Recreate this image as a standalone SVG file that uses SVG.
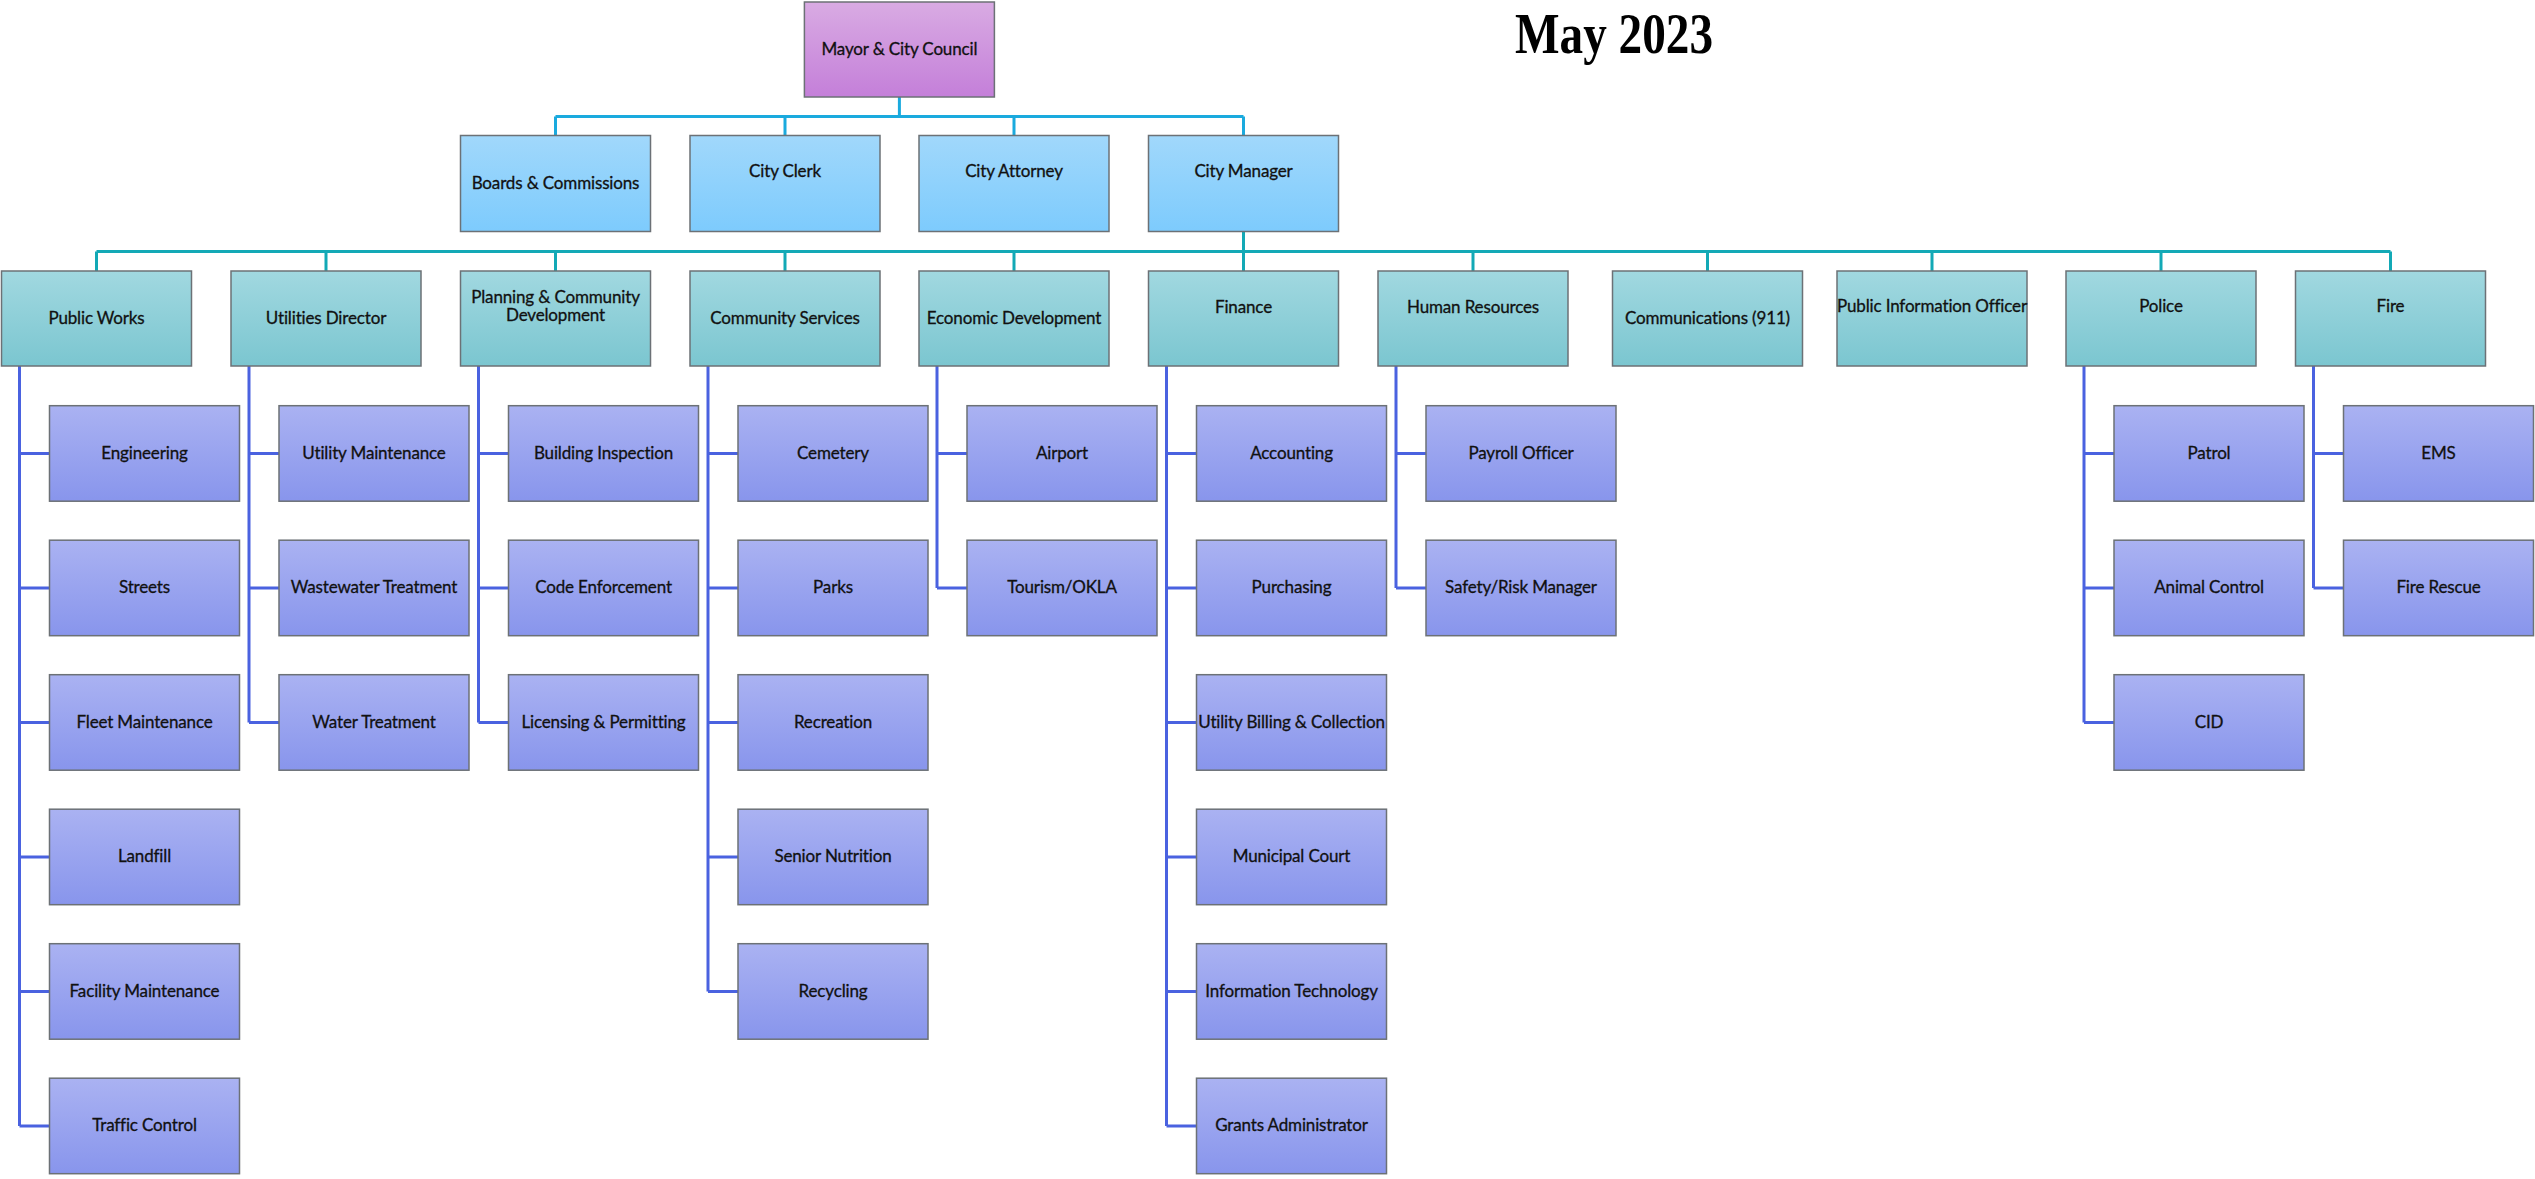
<svg xmlns="http://www.w3.org/2000/svg" width="2535" height="1179" viewBox="0 0 2535 1179">
<defs>
<linearGradient id="gMayor" x1="0" y1="0" x2="0" y2="1"><stop offset="0" stop-color="#d9abe3"/><stop offset="1" stop-color="#c47fd9"/></linearGradient>
<linearGradient id="gTop" x1="0" y1="0" x2="0" y2="1"><stop offset="0" stop-color="#a1d8fb"/><stop offset="1" stop-color="#7dcbfd"/></linearGradient>
<linearGradient id="gDept" x1="0" y1="0" x2="0" y2="1"><stop offset="0" stop-color="#a1d8e0"/><stop offset="1" stop-color="#7bc6d0"/></linearGradient>
<linearGradient id="gSub" x1="0" y1="0" x2="0" y2="1"><stop offset="0" stop-color="#aab2f2"/><stop offset="1" stop-color="#8895ec"/></linearGradient>
</defs>
<style>
rect.b{stroke:#6c7176;stroke-width:1.5}
.mayor{fill:url(#gMayor)}
.top{fill:url(#gTop)}
.dept{fill:url(#gDept)}
.sub{fill:url(#gSub)}
text{font-family:Lato,"Open Sans","Liberation Sans",sans-serif;font-size:17px;fill:#111;stroke:#111;stroke-width:0.3;letter-spacing:-0.15px;text-anchor:middle}
text.title{font-family:"Liberation Serif","Times New Roman",serif;font-weight:bold;font-size:56px;fill:#000;stroke:none;letter-spacing:0;text-anchor:start}
.c1{stroke:#1aaade;stroke-width:3;fill:none}
.c2{stroke:#13a9b6;stroke-width:3;fill:none}
.c3{stroke:#4a62e0;stroke-width:3;fill:none}
</style>
<rect width="2535" height="1179" fill="#fff"/>
<text class="title" x="1515" y="53" textLength="198" lengthAdjust="spacingAndGlyphs">May 2023</text>

<g id="connectors">
<path class="c1" d="M899.4 97V116.5M555.5 116.5H1243.5M555.5 116.5V135.5M785 116.5V135.5M1014 116.5V135.5M1243.5 116.5V135.5"/>
<path class="c2" d="M1243.5 231.5V251.5M96.5 251.5H2390.5M96.5 251.5V271M326 251.5V271M555.5 251.5V271M785 251.5V271M1014 251.5V271M1243.5 251.5V271M1473 251.5V271M1707.5 251.5V271M1932 251.5V271M2161 251.5V271M2390.5 251.5V271"/>
<path class="c3" d="M19.5 366V1126M19.5 453.5H49.5M19.5 588H49.5M19.5 722.5H49.5M19.5 857H49.5M19.5 991.5H49.5M19.5 1126H49.5"/>
<path class="c3" d="M249 366V722.5M249 453.5H279M249 588H279M249 722.5H279"/>
<path class="c3" d="M478.5 366V722.5M478.5 453.5H508.5M478.5 588H508.5M478.5 722.5H508.5"/>
<path class="c3" d="M708 366V991.5M708 453.5H738M708 588H738M708 722.5H738M708 857H738M708 991.5H738"/>
<path class="c3" d="M937 366V588M937 453.5H967M937 588H967"/>
<path class="c3" d="M1166.5 366V1126M1166.5 453.5H1196.5M1166.5 588H1196.5M1166.5 722.5H1196.5M1166.5 857H1196.5M1166.5 991.5H1196.5M1166.5 1126H1196.5"/>
<path class="c3" d="M1396 366V588M1396 453.5H1426M1396 588H1426"/>
<path class="c3" d="M2084 366V722.5M2084 453.5H2114M2084 588H2114M2084 722.5H2114"/>
<path class="c3" d="M2313.5 366V588M2313.5 453.5H2343.5M2313.5 588H2343.5"/>
</g>

<g id="n-mayor"><rect class="b mayor" x="804.4" y="2" width="190" height="95"/><text x="899.4" y="55">Mayor &amp; City Council</text></g>

<g id="n-boards"><rect class="b top" x="460.5" y="135.5" width="190" height="96"/><text x="555.5" y="189">Boards &amp; Commissions</text></g>
<g id="n-clerk"><rect class="b top" x="690" y="135.5" width="190" height="96"/><text x="785" y="177">City Clerk</text></g>
<g id="n-attorney"><rect class="b top" x="919" y="135.5" width="190" height="96"/><text x="1014" y="177">City Attorney</text></g>
<g id="n-manager"><rect class="b top" x="1148.5" y="135.5" width="190" height="96"/><text x="1243.5" y="177">City Manager</text></g>

<g id="n-publicworks"><rect class="b dept" x="1.5" y="271" width="190" height="95"/><text x="96.5" y="324">Public Works</text></g>
<g id="n-utilities"><rect class="b dept" x="231" y="271" width="190" height="95"/><text x="326" y="324">Utilities Director</text></g>
<g id="n-planning"><rect class="b dept" x="460.5" y="271" width="190" height="95"/><text x="555.5" y="303">Planning &amp; Community</text><text x="555.5" y="320.5">Development</text></g>
<g id="n-community"><rect class="b dept" x="690" y="271" width="190" height="95"/><text x="785" y="324">Community Services</text></g>
<g id="n-economic"><rect class="b dept" x="919" y="271" width="190" height="95"/><text x="1014" y="324">Economic Development</text></g>
<g id="n-finance"><rect class="b dept" x="1148.5" y="271" width="190" height="95"/><text x="1243.5" y="312.5">Finance</text></g>
<g id="n-hr"><rect class="b dept" x="1378" y="271" width="190" height="95"/><text x="1473" y="312.5">Human Resources</text></g>
<g id="n-comm"><rect class="b dept" x="1612.5" y="271" width="190" height="95"/><text x="1707.5" y="324">Communications (911)</text></g>
<g id="n-pio"><rect class="b dept" x="1837" y="271" width="190" height="95"/><text x="1932" y="312">Public Information Officer</text></g>
<g id="n-police"><rect class="b dept" x="2066" y="271" width="190" height="95"/><text x="2161" y="312">Police</text></g>
<g id="n-fire"><rect class="b dept" x="2295.5" y="271" width="190" height="95"/><text x="2390.5" y="312">Fire</text></g>

<g id="n-engineering"><rect class="b sub" x="49.5" y="405.7" width="190" height="95.5"/><text x="144.5" y="458.7">Engineering</text></g>
<g id="n-streets"><rect class="b sub" x="49.5" y="540.2" width="190" height="95.5"/><text x="144.5" y="593.2">Streets</text></g>
<g id="n-fleet"><rect class="b sub" x="49.5" y="674.7" width="190" height="95.5"/><text x="144.5" y="727.7">Fleet Maintenance</text></g>
<g id="n-landfill"><rect class="b sub" x="49.5" y="809.2" width="190" height="95.5"/><text x="144.5" y="862.2">Landfill</text></g>
<g id="n-facility"><rect class="b sub" x="49.5" y="943.7" width="190" height="95.5"/><text x="144.5" y="996.7">Facility Maintenance</text></g>
<g id="n-traffic"><rect class="b sub" x="49.5" y="1078.2" width="190" height="95.5"/><text x="144.5" y="1131.2">Traffic Control</text></g>

<g id="n-utilmaint"><rect class="b sub" x="279" y="405.7" width="190" height="95.5"/><text x="374" y="458.7">Utility Maintenance</text></g>
<g id="n-wastewater"><rect class="b sub" x="279" y="540.2" width="190" height="95.5"/><text x="374" y="593.2">Wastewater Treatment</text></g>
<g id="n-water"><rect class="b sub" x="279" y="674.7" width="190" height="95.5"/><text x="374" y="727.7">Water Treatment</text></g>

<g id="n-building"><rect class="b sub" x="508.5" y="405.7" width="190" height="95.5"/><text x="603.5" y="458.7">Building Inspection</text></g>
<g id="n-code"><rect class="b sub" x="508.5" y="540.2" width="190" height="95.5"/><text x="603.5" y="593.2">Code Enforcement</text></g>
<g id="n-licensing"><rect class="b sub" x="508.5" y="674.7" width="190" height="95.5"/><text x="603.5" y="727.7">Licensing &amp; Permitting</text></g>

<g id="n-cemetery"><rect class="b sub" x="738" y="405.7" width="190" height="95.5"/><text x="833" y="458.7">Cemetery</text></g>
<g id="n-parks"><rect class="b sub" x="738" y="540.2" width="190" height="95.5"/><text x="833" y="593.2">Parks</text></g>
<g id="n-recreation"><rect class="b sub" x="738" y="674.7" width="190" height="95.5"/><text x="833" y="727.7">Recreation</text></g>
<g id="n-senior"><rect class="b sub" x="738" y="809.2" width="190" height="95.5"/><text x="833" y="862.2">Senior Nutrition</text></g>
<g id="n-recycling"><rect class="b sub" x="738" y="943.7" width="190" height="95.5"/><text x="833" y="996.7">Recycling</text></g>

<g id="n-airport"><rect class="b sub" x="967" y="405.7" width="190" height="95.5"/><text x="1062" y="458.7">Airport</text></g>
<g id="n-tourism"><rect class="b sub" x="967" y="540.2" width="190" height="95.5"/><text x="1062" y="593.2">Tourism/OKLA</text></g>

<g id="n-accounting"><rect class="b sub" x="1196.5" y="405.7" width="190" height="95.5"/><text x="1291.5" y="458.7">Accounting</text></g>
<g id="n-purchasing"><rect class="b sub" x="1196.5" y="540.2" width="190" height="95.5"/><text x="1291.5" y="593.2">Purchasing</text></g>
<g id="n-billing"><rect class="b sub" x="1196.5" y="674.7" width="190" height="95.5"/><text x="1291.5" y="727.7">Utility Billing &amp; Collection</text></g>
<g id="n-court"><rect class="b sub" x="1196.5" y="809.2" width="190" height="95.5"/><text x="1291.5" y="862.2">Municipal Court</text></g>
<g id="n-it"><rect class="b sub" x="1196.5" y="943.7" width="190" height="95.5"/><text x="1291.5" y="996.7">Information Technology</text></g>
<g id="n-grants"><rect class="b sub" x="1196.5" y="1078.2" width="190" height="95.5"/><text x="1291.5" y="1131.2">Grants Administrator</text></g>

<g id="n-payroll"><rect class="b sub" x="1426" y="405.7" width="190" height="95.5"/><text x="1521" y="458.7">Payroll Officer</text></g>
<g id="n-safety"><rect class="b sub" x="1426" y="540.2" width="190" height="95.5"/><text x="1521" y="593.2">Safety/Risk Manager</text></g>

<g id="n-patrol"><rect class="b sub" x="2114" y="405.7" width="190" height="95.5"/><text x="2209" y="458.7">Patrol</text></g>
<g id="n-animal"><rect class="b sub" x="2114" y="540.2" width="190" height="95.5"/><text x="2209" y="593.2">Animal Control</text></g>
<g id="n-cid"><rect class="b sub" x="2114" y="674.7" width="190" height="95.5"/><text x="2209" y="727.7">CID</text></g>

<g id="n-ems"><rect class="b sub" x="2343.5" y="405.7" width="190" height="95.5"/><text x="2438.5" y="458.7">EMS</text></g>
<g id="n-firerescue"><rect class="b sub" x="2343.5" y="540.2" width="190" height="95.5"/><text x="2438.5" y="593.2">Fire Rescue</text></g>
</svg>
